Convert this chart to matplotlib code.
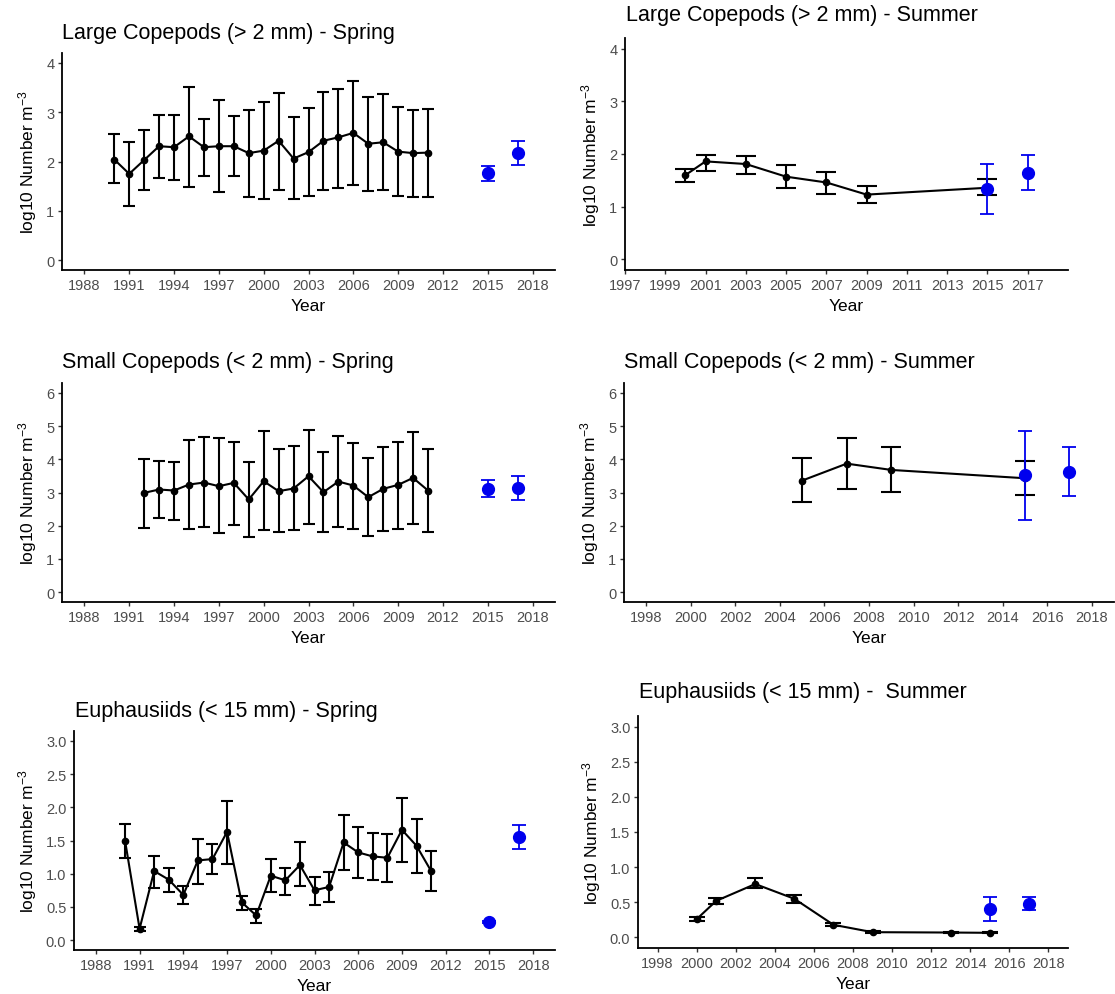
import matplotlib.pyplot as plt
import numpy as np

plt.rcParams['font.family'] = ['Liberation Sans', 'DejaVu Sans']
plt.rcParams['mathtext.fontset'] = 'custom'
plt.rcParams['mathtext.rm'] = 'Liberation Sans'
plt.rcParams['mathtext.it'] = 'Liberation Sans:italic'

W, H = 1115, 995

# --- Large copepods (> 2 mm), spring ---
lcs_years = list(range(1990, 2012))
lcs_mean = [2.04, 1.75, 2.03, 2.31, 2.29, 2.51, 2.29, 2.31, 2.31, 2.17, 2.22,
            2.42, 2.06, 2.19, 2.42, 2.49, 2.58, 2.36, 2.39, 2.20, 2.17, 2.18]
lcs_upper = [2.56, 2.39, 2.64, 2.95, 2.95, 3.52, 2.86, 3.25, 2.93, 3.05, 3.20,
             3.38, 2.91, 3.09, 3.40, 3.48, 3.63, 3.30, 3.37, 3.10, 3.04, 3.07]
lcs_lower = [1.57, 1.09, 1.43, 1.67, 1.63, 1.49, 1.71, 1.38, 1.70, 1.28, 1.23,
             1.43, 1.23, 1.30, 1.43, 1.47, 1.53, 1.40, 1.43, 1.31, 1.28, 1.29]
lcs_new_years = [2015, 2017]
lcs_new_mean = [1.76, 2.17]
lcs_new_upper = [1.90, 2.41]
lcs_new_lower = [1.60, 1.92]

# --- Large copepods (> 2 mm), summer ---
lcu_years = [2000, 2001, 2003, 2005, 2007, 2009, 2015]
lcu_mean = [1.60, 1.86, 1.81, 1.57, 1.46, 1.23, 1.36]
lcu_upper = [1.72, 1.99, 1.97, 1.80, 1.65, 1.40, 1.52]
lcu_lower = [1.47, 1.68, 1.62, 1.35, 1.25, 1.07, 1.22]
lcu_new_years = [2015, 2017]
lcu_new_mean = [1.33, 1.64]
lcu_new_upper = [1.81, 1.98]
lcu_new_lower = [0.87, 1.32]

# --- Small copepods (< 2 mm), spring ---
scs_years = list(range(1992, 2012))
scs_mean = [2.99, 3.09, 3.06, 3.24, 3.30, 3.19, 3.29, 2.79, 3.34, 3.04,
            3.12, 3.49, 3.01, 3.33, 3.21, 2.86, 3.11, 3.23, 3.44, 3.06]
scs_upper = [4.01, 3.94, 3.92, 4.58, 4.67, 4.63, 4.52, 3.92, 4.85, 4.30,
             4.39, 4.89, 4.23, 4.69, 4.49, 4.03, 4.37, 4.52, 4.81, 4.30]
scs_lower = [1.93, 2.23, 2.18, 1.91, 1.96, 1.78, 2.03, 1.67, 1.87, 1.81,
             1.86, 2.06, 1.80, 1.96, 1.90, 1.69, 1.85, 1.90, 2.04, 1.81]
scs_new_years = [2015, 2017]
scs_new_mean = [3.11, 3.13]
scs_new_upper = [3.38, 3.49]
scs_new_lower = [2.85, 2.78]

# --- Small copepods (< 2 mm), summer ---
scu_years = [2005, 2007, 2009, 2015]
scu_mean = [3.36, 3.87, 3.68, 3.43]
scu_upper = [4.04, 4.64, 4.38, 3.94]
scu_lower = [2.70, 3.12, 3.01, 2.91]
scu_new_years = [2015, 2017]
scu_new_mean = [3.52, 3.62]
scu_new_upper = [4.84, 4.37]
scu_new_lower = [2.18, 2.89]

# --- Euphausiids (< 15 mm), spring ---
eus_years = list(range(1990, 2012))
eus_mean = [1.50, 0.17, 1.04, 0.91, 0.68, 1.20, 1.22, 1.63, 0.57, 0.37, 0.97,
            0.90, 1.13, 0.75, 0.80, 1.47, 1.32, 1.26, 1.24, 1.66, 1.42, 1.04]
eus_upper = [1.75, 0.20, 1.27, 1.08, 0.82, 1.53, 1.44, 2.09, 0.67, 0.47, 1.22,
             1.09, 1.47, 0.95, 1.03, 1.89, 1.70, 1.62, 1.60, 2.14, 1.83, 1.34]
eus_lower = [1.24, 0.13, 0.79, 0.73, 0.54, 0.85, 1.00, 1.15, 0.46, 0.26, 0.72,
             0.68, 0.82, 0.53, 0.57, 1.05, 0.93, 0.90, 0.88, 1.18, 1.01, 0.74]
eus_new_years = [2015, 2017]
eus_new_mean = [0.27, 1.55]
eus_new_upper = [0.28, 1.73]
eus_new_lower = [0.26, 1.37]

# --- Euphausiids (< 15 mm), summer ---
euu_years = [2000, 2001, 2003, 2005, 2007, 2009, 2013, 2015]
euu_mean = [0.26, 0.52, 0.76, 0.55, 0.18, 0.075, 0.07, 0.066]
euu_upper = [0.29, 0.56, 0.85, 0.60, 0.20, 0.085, 0.08, 0.075]
euu_lower = [0.23, 0.47, 0.70, 0.49, 0.16, 0.065, 0.06, 0.057]
euu_new_years = [2015, 2017]
euu_new_mean = [0.41, 0.48]
euu_new_upper = [0.57, 0.58]
euu_new_lower = [0.24, 0.39]

spring_ticks = np.arange(1988, 2019, 3)
summer_ticks_odd = np.arange(1997, 2018, 2)
summer_ticks_even = np.arange(1998, 2019, 2)


def add_axes_px(fig, left, top, right, bottom):
    return fig.add_axes([left / W, 1 - bottom / H, (right - left) / W, (bottom - top) / H])


def draw_panel(ax, title, title_xy, series, new_series, xlim, xticks, ylim, yticks,
               yfmt, cap):
    years, mean, upper, lower = series
    mean = np.array(mean)
    err = [mean - np.array(lower), np.array(upper) - mean]
    ax.errorbar(years, mean, yerr=err, color='black', lw=1.5, marker='o',
                markersize=4.5, capsize=cap, capthick=1.5, elinewidth=1.5, zorder=2)

    nyears, nmean, nupper, nlower = new_series
    nmean = np.array(nmean)
    nerr = [nmean - np.array(nlower), np.array(nupper) - nmean]
    ax.errorbar(nyears, nmean, yerr=nerr, color='#0000ee', lw=0, marker='o',
                markersize=8.5, capsize=5, capthick=1.3, elinewidth=1.3, zorder=3)

    ax.set_xlim(*xlim)
    ax.set_ylim(*ylim)
    ax.set_xticks(xticks)
    ax.set_yticks(yticks)
    ax.set_yticklabels([yfmt.format(v) for v in yticks])
    for side in ['top', 'right']:
        ax.spines[side].set_visible(False)
    for side in ['left', 'bottom']:
        ax.spines[side].set_linewidth(1.3)
        ax.spines[side].set_color('black')
    ax.tick_params(axis='both', labelsize=10.5, labelcolor='#4d4d4d', color='#333333',
                   length=3, width=1, pad=2.5)
    ax.set_xlabel('Year', fontsize=12.5, labelpad=4.5)
    ax.set_ylabel('log10 Number m$^{-3}$', fontsize=12.5, labelpad=5)
    fig.text(title_xy[0] / W, 1 - title_xy[1] / H, title, fontsize=15.5,
             ha='left', va='center')


fig = plt.figure(figsize=(W / 100, H / 100), dpi=100)

ax1 = add_axes_px(fig, 62, 54, 555, 271)
draw_panel(ax1, 'Large Copepods (> 2 mm) - Spring', (62, 33),
           (lcs_years, lcs_mean, lcs_upper, lcs_lower),
           (lcs_new_years, lcs_new_mean, lcs_new_upper, lcs_new_lower),
           (1986.5, 2019.5), spring_ticks, (-0.2, 4.2), range(0, 5), '{:d}', 4.5)

ax2 = add_axes_px(fig, 625, 39, 1068, 271)
draw_panel(ax2, 'Large Copepods (> 2 mm) - Summer', (626, 15),
           (lcu_years, lcu_mean, lcu_upper, lcu_lower),
           (lcu_new_years, lcu_new_mean, lcu_new_upper, lcu_new_lower),
           (1997, 2019), summer_ticks_odd, (-0.2, 4.2), range(0, 5), '{:d}', 7.5)

ax3 = add_axes_px(fig, 62, 384, 555, 603)
draw_panel(ax3, 'Small Copepods (< 2 mm) - Spring', (62, 363),
           (scs_years, scs_mean, scs_upper, scs_lower),
           (scs_new_years, scs_new_mean, scs_new_upper, scs_new_lower),
           (1986.5, 2019.5), spring_ticks, (-0.3, 6.3), range(0, 7), '{:d}', 4.5)

ax4 = add_axes_px(fig, 624, 384, 1114, 603)
draw_panel(ax4, 'Small Copepods (< 2 mm) - Summer', (624, 363),
           (scu_years, scu_mean, scu_upper, scu_lower),
           (scu_new_years, scu_new_mean, scu_new_upper, scu_new_lower),
           (1997, 2019), summer_ticks_even, (-0.3, 6.3), range(0, 7), '{:d}', 7.5)

ax5 = add_axes_px(fig, 74, 732, 555, 951)
draw_panel(ax5, 'Euphausiids (< 15 mm) - Spring', (75, 711),
           (eus_years, eus_mean, eus_upper, eus_lower),
           (eus_new_years, eus_new_mean, eus_new_upper, eus_new_lower),
           (1986.5, 2019.5), spring_ticks, (-0.15, 3.15), np.arange(0, 3.01, 0.5),
           '{:.1f}', 4.5)

ax6 = add_axes_px(fig, 638, 717, 1068, 949)
draw_panel(ax6, 'Euphausiids (< 15 mm) -  Summer', (639, 693),
           (euu_years, euu_mean, euu_upper, euu_lower),
           (euu_new_years, euu_new_mean, euu_new_upper, euu_new_lower),
           (1997, 2019), summer_ticks_even, (-0.15, 3.15), np.arange(0, 3.01, 0.5),
           '{:.1f}', 6)

fig.savefig('out.png', dpi=100)
